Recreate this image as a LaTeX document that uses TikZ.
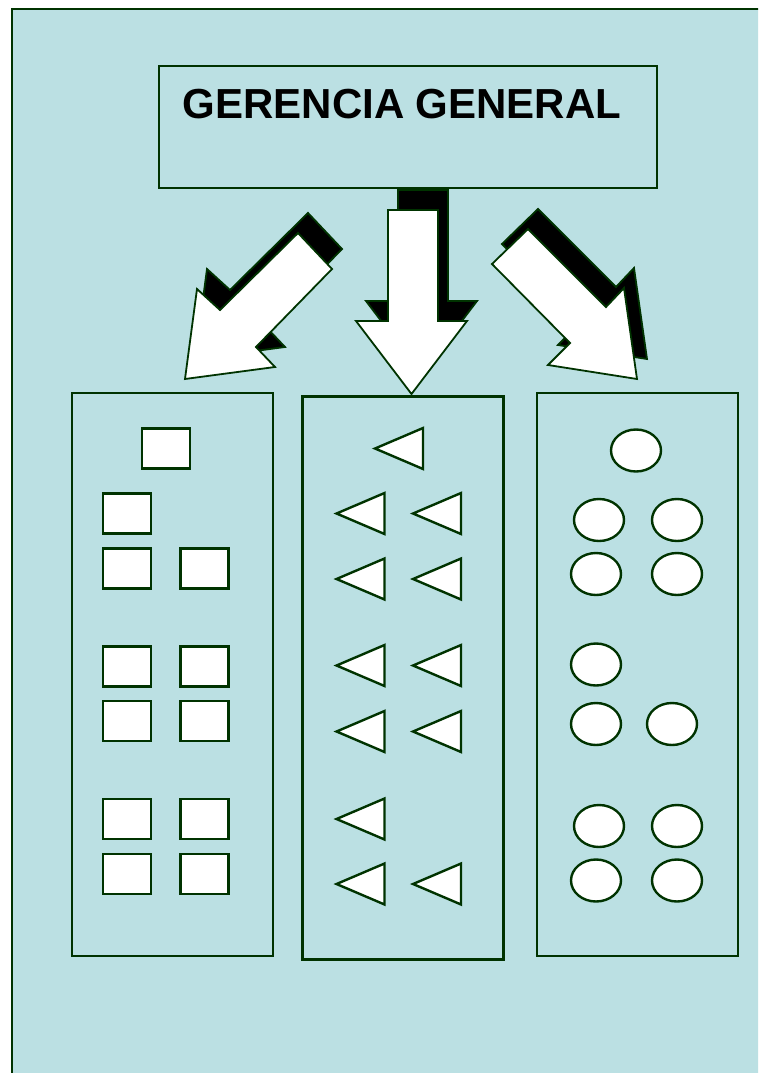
\documentclass[tikz,border=0pt]{standalone}
\usepackage{fontspec}
\setmainfont{Liberation Sans}
\usetikzlibrary{shapes.geometric}
\definecolor{verde}{RGB}{0,51,0}
\definecolor{celeste}{RGB}{187,224,227}
\tikzset{
  caja/.style={draw=verde,line width=2.4pt,fill=white,minimum width=48pt,minimum height=40pt,inner sep=0pt},
  tri/.style={isosceles triangle,isosceles triangle stretches,shape border rotate=180,draw=verde,line width=2.4pt,fill=white,minimum width=41pt,minimum height=48pt,inner sep=0pt},
  ovalo/.style={ellipse,draw=verde,line width=2.4pt,fill=white,minimum width=50pt,minimum height=42pt,inner sep=0pt},
  panel/.style={draw=verde,line width=2.4pt,minimum width=201pt,minimum height=563pt,inner sep=0pt},
  sombra/.style={fill=black,draw=verde,line width=1.8pt,shift={(10,-20)}},
  flecha/.style={fill=white,draw=verde,line width=1.8pt},
}

\begin{document}
\begin{tikzpicture}[x=1pt,y=-1pt]
  \useasboundingbox (0,0) rectangle (758,1073);
  \clip (0,0) rectangle (758,1073);
  \draw[verde,line width=2.4pt,fill=celeste] (12,9) rectangle (780,1100);

  \foreach \s in {sombra,flecha} {
    \draw[\s] (388,210) -- (438,210) -- (438,321) -- (467,321) -- (411.5,394)
      -- (356,321) -- (388,321) -- cycle;
    \draw[\s] (298,233) -- (332,269) -- (256,347) -- (275,367) -- (185,379)
      -- (197,289) -- (220,310) -- cycle;
    \draw[\s] (528,229) -- (492,264) -- (570,343) -- (548,365) -- (637,379)
      -- (624,288) -- (606,307) -- cycle;
  }

  \node[draw=verde,line width=2.4pt,minimum width=498pt,minimum height=122pt,inner sep=0pt] (gerencia) at (408,127) {};
  \node[anchor=base,inner sep=0pt,font=\bfseries\fontsize{42}{50}\selectfont] (titulo) at (402,118) {GERENCIA GENERAL};

  \node[panel] (izq) at (172.5,674.5) {};
  \node[panel] (centro) at (403,678) {};
  \node[panel] (der) at (637.5,674.5) {};

  \node[caja] (c0) at (166,448.5) {};
  \node[caja] (c1) at (127,513.5) {};
  \foreach \y [count=\i] in {568.5,666.5,721,819,874} {
    \node[caja] (cl\i) at (127,\y) {};
    \node[caja] (cr\i) at (204.5,\y) {};
  }

  \node[tri] (t0) at (409.5,448.5) {};
  \foreach \y [count=\i] in {513.5,579,665.5,731.5,884} {
    \node[tri] (tl\i) at (371,\y) {};
    \node[tri] (tr\i) at (447.5,\y) {};
  }
  \node[tri] (t6) at (371,819) {};

  \node[ovalo] (o0) at (636,450.5) {};
  \foreach \a/\b/\y [count=\i] in {599/677/520,596/677/574,596/672/724,599/677/826,596/677/880.5} {
    \node[ovalo] (ol\i) at (\a,\y) {};
    \node[ovalo] (or\i) at (\b,\y) {};
  }
  \node[ovalo] (o6) at (596,664.5) {};
\end{tikzpicture}
\end{document}
